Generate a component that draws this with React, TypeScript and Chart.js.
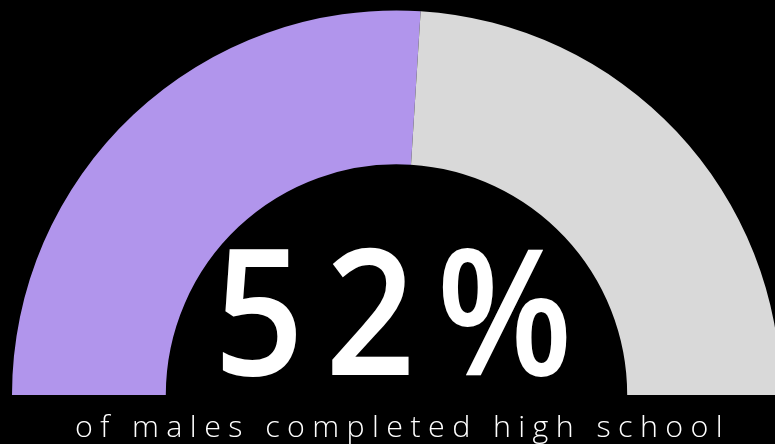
import React, { useEffect, useRef } from "react";
import { Chart, registerables } from "chart.js";

Chart.register(...registerables);

const categories: string[] = ["Completed high school", "Did not complete"];
const values: number[] = [52, 48];
const sliceColors: string[] = ["#b195ec", "#d9d9d9"];
const headline = "52%";
const caption = "of males completed high school";

function drawFitted(
  ctx: CanvasRenderingContext2D,
  text: string,
  font: string,
  centerX: number,
  baseline: number,
  inkWidth: number,
  scaleX: number
) {
  ctx.save();
  ctx.font = font;
  ctx.textAlign = "left";
  ctx.textBaseline = "alphabetic";
  (ctx as any).letterSpacing = "0px";
  const m0 = ctx.measureText(text);
  const ink0 = m0.actualBoundingBoxLeft + m0.actualBoundingBoxRight;
  const target = inkWidth / scaleX;
  const spacing = (target - ink0) / Math.max(text.length - 1, 1);
  (ctx as any).letterSpacing = spacing + "px";
  const left = centerX - inkWidth / 2;
  ctx.translate(left, baseline);
  ctx.scale(scaleX, 1);
  ctx.fillStyle = "#ffffff";
  ctx.fillText(text, m0.actualBoundingBoxLeft, 0);
  ctx.restore();
}

export default function App() {
  const ref = useRef<HTMLCanvasElement>(null);

  useEffect(() => {
    document.body.style.margin = "0";
    document.body.style.background = "#000";
    const canvas = ref.current;
    if (!canvas) return;

    const textPlugin = {
      id: "gaugeText",
      afterDraw(chart: any) {
        const arc = chart.getDatasetMeta(0).data[0];
        if (!arc) return;
        const ctx: CanvasRenderingContext2D = chart.ctx;
        const cx = arc.x;
        const cy = arc.y;
        drawFitted(ctx, headline, '600 175px "Open Sans", Roboto, sans-serif', cx - 2, cy - 20, 345, 0.9);
        drawFitted(ctx, caption, '300 29px "Open Sans", Roboto, sans-serif', cx + 1.5, cy + 41.5, 644, 1.05);
      },
    };

    const chart = new Chart(canvas, {
      type: "doughnut",
      data: {
        labels: categories,
        datasets: [
          {
            data: values,
            backgroundColor: sliceColors,
            borderWidth: 0,
            hoverOffset: 0,
          },
        ],
      },
      options: {
        responsive: false,
        animation: false,
        rotation: -90,
        circumference: 180,
        cutout: "60%",
        layout: { padding: { top: 10.5, bottom: 49, left: 0, right: 0 } },
        plugins: {
          legend: { display: false },
          tooltip: { enabled: false },
        },
        events: [],
      },
      plugins: [textPlugin],
    });

    let alive = true;
    Promise.all([
      document.fonts.load('600 175px "Open Sans"'),
      document.fonts.load('300 29px "Open Sans"'),
    ])
      .catch(() => null)
      .then(() => {
        if (alive) chart.draw();
      });

    return () => {
      alive = false;
      chart.destroy();
    };
  }, []);

  return (
    <div
      style={{
        position: "fixed",
        left: 0,
        top: 0,
        width: 775,
        height: 444,
        overflow: "hidden",
        background: "#000",
      }}
    >
      <canvas ref={ref} width={793} height={444} style={{ display: "block" }} />
    </div>
  );
}
